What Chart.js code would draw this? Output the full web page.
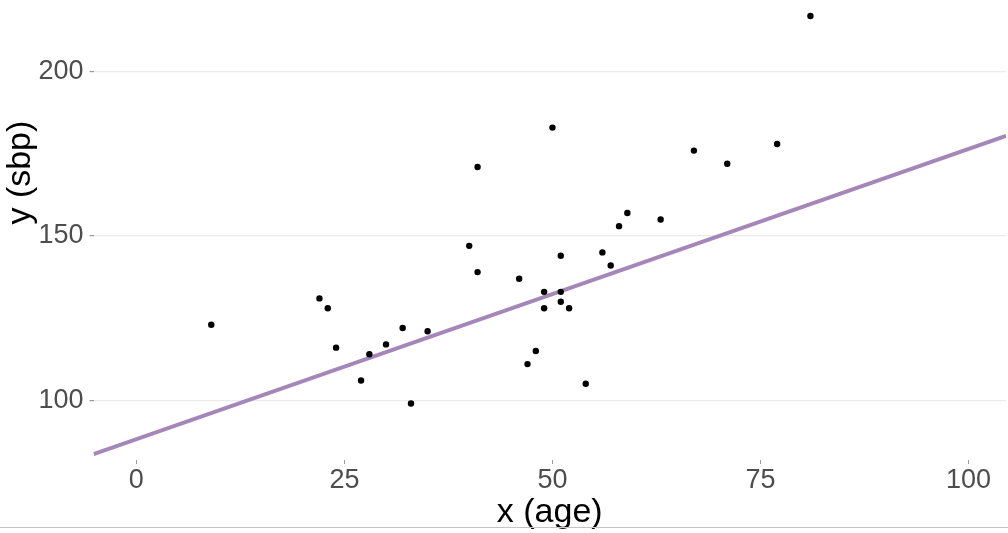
<!DOCTYPE html>
<html>
<head>
<meta charset="utf-8">
<script src="https://cdn.jsdelivr.net/npm/chart.js@4.4.1/dist/chart.umd.min.js"></script>
<style>
html, body { margin: 0; padding: 0; background: #fff; }
body { width: 1008px; height: 533px; overflow: hidden; position: relative; }
#wrap { position: absolute; left: 0; top: -137px; }
#edge { position: absolute; left: 0; top: 527px; width: 1008px; border-top: 1px solid #c4c4c4; }
</style>
</head>
<body>
<div id="wrap"><canvas id="chart" width="1010" height="670"></canvas></div>
<div id="edge"></div>
<script>
// age / systolic blood pressure
const ageValues = [9, 22, 23, 24, 27, 28, 30, 32, 33, 35, 40, 41, 41, 46, 47, 48, 49, 49, 50, 51, 51, 51, 52, 54, 56, 57, 58, 59, 63, 67, 71, 77, 81];
const sbpValues = [123, 131, 128, 116, 106, 114, 117, 122, 99, 121, 147, 139, 171, 137, 111, 115, 133, 128, 183, 144, 133, 130, 128, 105, 145, 141, 153, 157, 155, 176, 172, 178, 217];

// fitted line, ends read at the panel edges
const fitAge = [-5.15, 104.5];
const fitSbp = [83.6, 180.5];

const xTicks = [0, 25, 50, 75, 100];
const yTicks = [100, 150, 200, 250];

const points = ageValues.map((a, i) => ({ x: a, y: sbpValues[i] }));
const fitLine = fitAge.map((a, i) => ({ x: a, y: fitSbp[i] }));

const tickFont = { family: 'Liberation Sans', size: 27 };
const titleFont = { family: 'Liberation Sans', size: 34 };

new Chart(document.getElementById('chart'), {
    type: 'scatter',
    data: {
        datasets: [
            {
                label: 'sbp',
                data: points,
                backgroundColor: '#000',
                borderWidth: 0,
                pointRadius: 3.2
            },
            {
                type: 'line',
                label: 'fit',
                data: fitLine,
                borderColor: '#a586b9',
                borderWidth: 4,
                pointRadius: 0,
                fill: false
            }
        ]
    },
    options: {
        responsive: false,
        animation: false,
        layout: { padding: 0 },
        plugins: {
            legend: { display: false },
            tooltip: { enabled: false }
        },
        scales: {
            x: {
                type: 'linear',
                min: -5.15,
                max: 104.5,
                border: { display: false },
                grid: {
                    drawOnChartArea: false,
                    drawTicks: true,
                    tickLength: 4,
                    tickColor: '#9a9a9a'
                },
                ticks: {
                    includeBounds: false,
                    padding: 0,
                    color: '#4d4d4d',
                    font: tickFont
                },
                afterBuildTicks: s => { s.ticks = xTicks.map(v => ({ value: v })); },
                afterFit: s => { s.height = 73; },
                title: {
                    display: true,
                    text: 'x (age)',
                    color: '#000',
                    font: titleFont,
                    padding: { top: 0, bottom: 0 }
                }
            },
            y: {
                type: 'linear',
                min: 81.8,
                max: 256.8,
                border: { display: false },
                grid: {
                    color: '#ebebeb',
                    lineWidth: 1.2,
                    drawTicks: true,
                    tickLength: 4,
                    tickColor: '#9a9a9a'
                },
                ticks: {
                    includeBounds: false,
                    padding: 6,
                    color: '#4d4d4d',
                    font: tickFont
                },
                afterBuildTicks: s => { s.ticks = yTicks.map(v => ({ value: v })); },
                afterFit: s => { s.width = 93.5; },
                title: {
                    display: true,
                    text: 'y (sbp)',
                    color: '#000',
                    font: titleFont,
                    padding: { top: 0, bottom: 0 }
                }
            }
        }
    }
});
</script>
</body>
</html>
